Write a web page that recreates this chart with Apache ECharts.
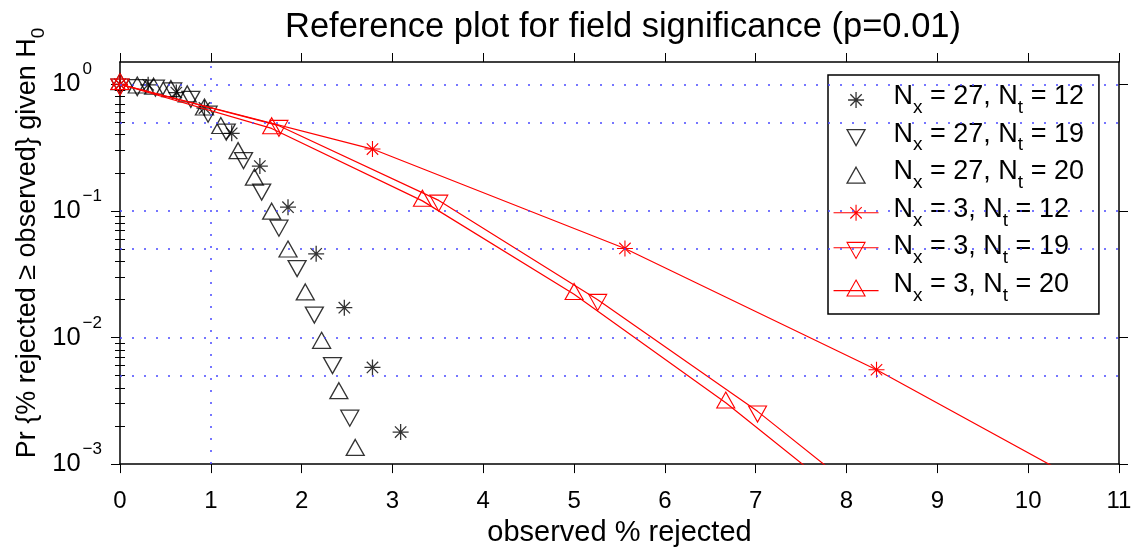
<!DOCTYPE html>
<html>
<head>
<meta charset="utf-8">
<script src="https://cdn.jsdelivr.net/npm/echarts@6/dist/echarts.min.js"></script>
<style>
html, body { margin: 0; padding: 0; background: #fff; }
#chart { width: 1137px; height: 552px; }
</style>
</head>
<body>
<div id="chart"></div>
<script>
// N_x = 27, markers only
var xA = [0, 0.31, 0.62, 0.93, 1.23, 1.54, 1.85, 2.16, 2.47, 2.78, 3.09];                       // N_t = 12
var pA = [1, 0.99, 0.86, 0.65, 0.41, 0.226, 0.107, 0.0458, 0.0172, 0.0058, 0.00179];
var xB = [0, 0.19, 0.39, 0.58, 0.78, 0.97, 1.17, 1.36, 1.56, 1.75, 1.95, 2.14, 2.34, 2.53];        // N_t = 19
var pB = [1, 0.99, 0.98, 0.93, 0.80, 0.61, 0.44, 0.262, 0.148, 0.0767, 0.0368, 0.0158, 0.0063, 0.00242];
var xC = [0, 0.19, 0.37, 0.56, 0.74, 0.93, 1.11, 1.30, 1.48, 1.67, 1.85, 2.04, 2.22, 2.41, 2.59];  // N_t = 20
var pC = [1, 0.94, 0.92, 0.88, 0.80, 0.63, 0.45, 0.285, 0.176, 0.0947, 0.0476, 0.0218, 0.00904, 0.00362, 0.00129];

// N_x = 3, lines + markers
var xD = [0, 2.78, 5.56, 8.33, 11.11];                 // N_t = 12
var pD = [1, 0.308, 0.0505, 0.00556, 0.00045];
var xE = [0, 1.75, 3.51, 5.26, 7.02, 8.77];            // N_t = 19
var pE = [1, 0.471, 0.121, 0.0199, 0.00261, 0.00026];
var xF = [0, 1.67, 3.33, 5.00, 6.67, 8.33];            // N_t = 20
var pF = [1, 0.448, 0.120, 0.0220, 0.00305, 0.00034];

var nxList = [27, 27, 27, 3, 3, 3];
var ntList = [12, 19, 20, 12, 19, 20];

// reference levels (dotted blue)
var pLevels = [1, 0.5, 0.1, 0.05, 0.01, 0.005];
var xLevel = 1;

// axis range and ticks
var xMin = 0, xMax = 11;
var yTicks = [0.001, 0.01, 0.1, 1];
var yMinor = [0.002, 0.003, 0.004, 0.005, 0.006, 0.007, 0.008, 0.009,
              0.02, 0.03, 0.04, 0.05, 0.06, 0.07, 0.08, 0.09,
              0.2, 0.3, 0.4, 0.5, 0.6, 0.7, 0.8, 0.9];

var FONT = 'Liberation Sans, Arial, Helvetica, sans-serif';
var symStar = 'path://M8,0V16M0,8H16M2.3,2.3L13.7,13.7M2.3,13.7L13.7,2.3';
var symDown = 'path://M0,0H18L9,16Z';
var symUp = 'path://M9,0L18,16H0Z';

function zip(xs, ys) {
    var out = [];
    for (var i = 0; i < xs.length; i++) {
        out.push([xs[i], ys[i]]);
    }
    return out;
}

var names = [];
for (var i = 0; i < nxList.length; i++) {
    names.push('Nx' + nxList[i] + 'Nt' + ntList[i]);
}

var chart = echarts.init(document.getElementById('chart'));

function blackStyle() {
    return { color: 'rgba(0,0,0,0)', borderColor: '#000', borderWidth: 1.3 };
}
function redStyle() {
    return { color: 'rgba(0,0,0,0)', borderColor: '#ff0000', borderWidth: 1.1 };
}

var commonY = {
    type: 'log',
    logBase: 10,
    min: 0.001,
    max: 1.5,
    splitLine: { show: false },
    axisLine: { show: true, onZero: false, lineStyle: { color: '#000', width: 1.5 } }
};

// dotted significance lines
var levelLines = [];
pLevels.forEach(function (v) {
    levelLines.push([{ coord: [xMin, v] }, { coord: [xMax, v] }]);
});
levelLines.push([{ coord: [xLevel, 0.001] }, { coord: [xLevel, 1.5] }]);

var expStyle = { fontSize: 17, lineHeight: 17, verticalAlign: 'top', fontFamily: FONT, color: '#000' };

option = {
    animation: false,
    backgroundColor: '#fff',
    grid: { left: 120, right: 18, top: 62, bottom: 87, containLabel: false },
    graphic: [
        {
            type: 'text',
            x: 623,
            y: 27,
            style: {
                text: 'Reference plot for field significance (p=0.01)',
                fontSize: 34.5,
                fontFamily: FONT,
                fill: '#000',
                align: 'center',
                verticalAlign: 'middle'
            }
        },
        {
            type: 'text',
            x: 28,
            y: 243,
            rotation: Math.PI / 2,
            style: {
                text: 'Pr {% rejected \u2265 observed} given H{sub|0}',
                fontSize: 27,
                lineHeight: 40,
                fontFamily: FONT,
                fill: '#000',
                align: 'center',
                verticalAlign: 'middle',
                rich: {
                    sub: { fontSize: 19, lineHeight: 16, verticalAlign: 'bottom', fontFamily: FONT, fill: '#000' }
                }
            }
        }
    ],
    legend: {
        orient: 'vertical',
        left: 828,
        top: 75,
        padding: [8, 15, 9, 5],
        itemWidth: 65,
        itemHeight: 16,
        itemGap: 3.6,
        backgroundColor: '#fff',
        borderColor: '#000',
        borderWidth: 1.5,
        borderRadius: 0,
        selectedMode: false,
        formatter: function (name) {
            var k = names.indexOf(name);
            return '{z|\u200b}{m|N}{s|x}{m| = ' + nxList[k] + ', N}{s|t}{m| = ' + ntList[k] + '}';
        },
        textStyle: {
            color: '#000',
            fontFamily: FONT,
            fontSize: 27,
            rich: {
                z: { fontSize: 27, lineHeight: 34 },
                m: { fontSize: 27, lineHeight: 16, verticalAlign: 'top', fontFamily: FONT, color: '#000' },
                s: { fontSize: 19, lineHeight: 20, verticalAlign: 'bottom', fontFamily: FONT, color: '#000' }
            }
        },
        data: [
            { name: names[0], icon: symStar, itemStyle: blackStyle() },
            { name: names[1], icon: symDown, itemStyle: blackStyle() },
            { name: names[2], icon: symUp, itemStyle: blackStyle() },
            { name: names[3], icon: 'path://M0,8H45M22.5,0V16M14.5,8H30.5M16.8,2.3L28.2,13.7M16.8,13.7L28.2,2.3', itemStyle: redStyle() },
            { name: names[4], icon: 'path://M0,5.33H45M13.5,0H31.5L22.5,16Z', itemStyle: redStyle() },
            { name: names[5], icon: 'path://M0,10.67H45M22.5,0L31.5,16H13.5Z', itemStyle: redStyle() }
        ]
    },
    xAxis: [
        {
            type: 'value',
            min: xMin,
            max: xMax,
            interval: 1,
            position: 'bottom',
            name: 'observed % rejected',
            nameLocation: 'middle',
            nameGap: 45,
            nameTextStyle: { fontSize: 29, fontFamily: FONT, color: '#000' },
            splitLine: { show: false },
            axisLine: { show: true, onZero: false, lineStyle: { color: '#000', width: 1.5 } },
            axisTick: { inside: false, length: 9, lineStyle: { color: '#000', width: 1 } },
            axisLabel: { color: '#000', fontSize: 24, fontFamily: FONT, margin: 25 }
        },
        {
            type: 'value',
            min: xMin,
            max: xMax,
            interval: 1,
            position: 'top',
            splitLine: { show: false },
            axisLine: { show: true, onZero: false, lineStyle: { color: '#000', width: 1.5 } },
            axisTick: { inside: false, length: 9, lineStyle: { color: '#000', width: 1 } },
            axisLabel: { show: false }
        }
    ],
    yAxis: [
        Object.assign({}, commonY, {
            position: 'left',
            axisTick: { inside: false, length: 9, customValues: yTicks, lineStyle: { color: '#000', width: 1 } },
            axisLabel: {
                customValues: yTicks,
                margin: 18,
                color: '#000',
                fontFamily: FONT,
                formatter: function (v) {
                    var e = Math.round(Math.log10(v));
                    // keep the "10" at the same place whatever the exponent width
                    return e < 0 ? '{b|10}{e|\u2212' + (-e) + '}' : '{b|10}{e0|' + e + '}';
                },
                rich: {
                    b: { fontSize: 25.5, lineHeight: 46, fontFamily: FONT, color: '#000' },
                    e: Object.assign({}, expStyle, { padding: [0, 0, 0, 2] }),
                    e0: Object.assign({}, expStyle, { padding: [0, 10, 0, 2] })
                }
            }
        }),
        Object.assign({}, commonY, {
            position: 'right',
            axisTick: { inside: false, length: 9, customValues: yTicks, lineStyle: { color: '#000', width: 1 } },
            axisLabel: { show: false }
        }),
        Object.assign({}, commonY, {
            position: 'left',
            axisLine: { show: false },
            axisTick: { inside: false, length: 5, customValues: yMinor, lineStyle: { color: '#000', width: 1 } },
            axisLabel: { show: false }
        }),
        Object.assign({}, commonY, {
            position: 'right',
            axisLine: { show: false },
            axisTick: { inside: false, length: 5, customValues: yMinor, lineStyle: { color: '#000', width: 1 } },
            axisLabel: { show: false }
        })
    ],
    series: [
        {
            name: names[0],
            type: 'scatter',
            data: zip(xA, pA),
            symbol: symStar,
            symbolSize: 16,
            itemStyle: blackStyle(),
            silent: true,
            markLine: {
                silent: true,
                symbol: 'none',
                label: { show: false },
                lineStyle: { color: '#4a4aff', type: [2, 10], width: 1.5 },
                data: levelLines
            }
        },
        {
            name: names[1],
            type: 'scatter',
            data: zip(xB, pB),
            symbol: symDown,
            symbolSize: [18, 16],
            symbolOffset: [0, 2.7],
            itemStyle: blackStyle(),
            silent: true
        },
        {
            name: names[2],
            type: 'scatter',
            data: zip(xC, pC),
            symbol: symUp,
            symbolSize: [18, 16],
            symbolOffset: [0, -2.7],
            itemStyle: blackStyle(),
            silent: true
        },
        {
            name: names[3],
            type: 'line',
            data: zip(xD, pD),
            symbol: symStar,
            symbolSize: 16,
            showAllSymbol: true,
            itemStyle: redStyle(),
            lineStyle: { color: '#ff0000', width: 1.2 },
            silent: true
        },
        {
            name: names[4],
            type: 'line',
            data: zip(xE, pE),
            symbol: symDown,
            symbolSize: [18, 16],
            symbolOffset: [0, 2.7],
            showAllSymbol: true,
            itemStyle: redStyle(),
            lineStyle: { color: '#ff0000', width: 1.2 },
            silent: true
        },
        {
            name: names[5],
            type: 'line',
            data: zip(xF, pF),
            symbol: symUp,
            symbolSize: [18, 16],
            symbolOffset: [0, -2.7],
            showAllSymbol: true,
            itemStyle: redStyle(),
            lineStyle: { color: '#ff0000', width: 1.2 },
            silent: true
        }
    ]
};

chart.setOption(option);
</script>
</body>
</html>
